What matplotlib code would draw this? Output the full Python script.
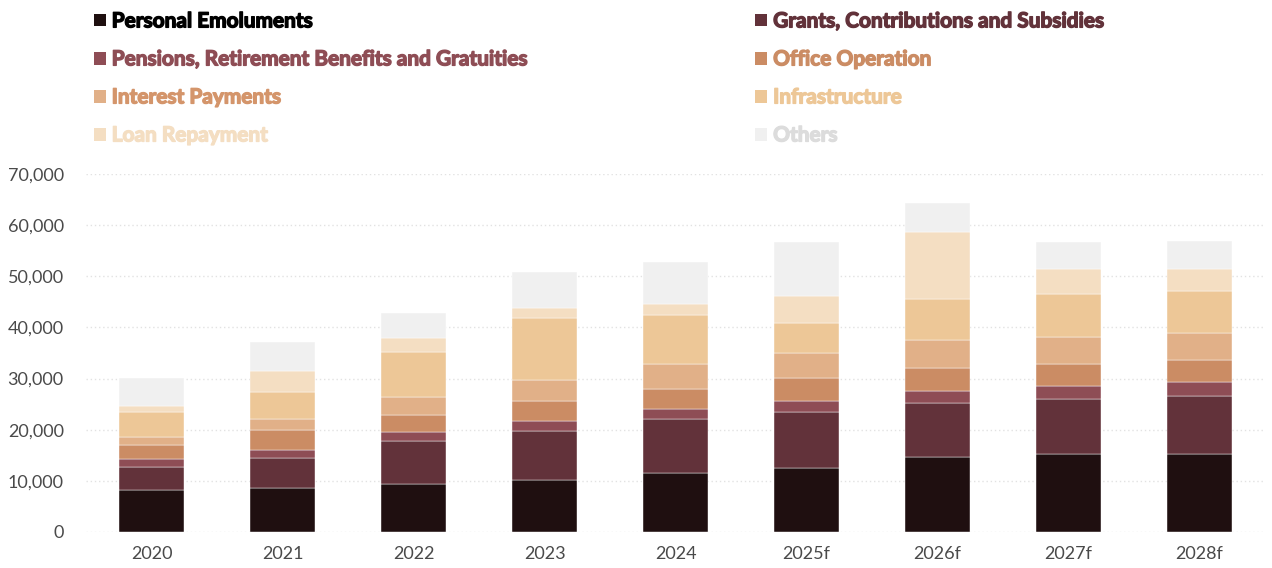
import matplotlib
matplotlib.use("Agg")
import matplotlib.pyplot as plt
import matplotlib.patheffects as pe
from matplotlib.patches import Patch
import numpy as np

years = ["2020", "2021", "2022", "2023", "2024", "2025f", "2026f", "2027f", "2028f"]

personal_emoluments = [8150, 8680, 9390, 10240, 11610, 12520, 14680, 15260, 15260]
grants_contributions = [4630, 5870, 8420, 9590, 10570, 10960, 10570, 10760, 11350]
pensions_gratuities = [1570, 1500, 1760, 1890, 1960, 2150, 2350, 2540, 2740]
office_operation = [2740, 3910, 3330, 3980, 3850, 4500, 4500, 4310, 4310]
interest_payments = [1570, 2150, 3590, 4040, 4760, 4890, 5480, 5280, 5280]
infrastructure = [4830, 5280, 8740, 12130, 9720, 5870, 8020, 8410, 8220]
loan_repayment = [1170, 4110, 2680, 1960, 2150, 5280, 13110, 4890, 4310]
others = [5480, 5680, 4890, 7040, 8150, 10570, 5680, 5280, 5480]

series = [
    ("Personal Emoluments", personal_emoluments, "#1f0f10", "#000000"),
    ("Grants, Contributions and Subsidies", grants_contributions, "#62323a", "#62323a"),
    ("Pensions, Retirement Benefits and Gratuities", pensions_gratuities, "#8e4d55", "#8e4d55"),
    ("Office Operation", office_operation, "#cb8c64", "#cb8c64"),
    ("Interest Payments", interest_payments, "#e1b088", "#d4956b"),
    ("Infrastructure", infrastructure, "#edc797", "#edc797"),
    ("Loan Repayment", loan_repayment, "#f4dec2", "#f4dec2"),
    ("Others", others, "#f0f0f0", "#dcdcdc"),
]

fig = plt.figure(figsize=(12.72, 5.68), dpi=100)
ax = fig.add_axes([0.0676, 0.0634, 0.927, 0.6303])

x = np.arange(len(years))
bottom = np.zeros(len(years))
handles = []
for name, vals, color, _ in series:
    v = np.array(vals, dtype=float)
    ax.bar(x, v, width=0.5, bottom=bottom, color=color,
           edgecolor="#ffffff", linewidth=0.3, zorder=3)
    bottom += v
    handles.append(Patch(facecolor=color, edgecolor="none"))

ax.set_xlim(-0.5, len(years) - 0.5)
ax.set_ylim(0, 70000)
ax.set_yticks(np.arange(0, 70001, 10000))
ax.set_yticklabels([f"{int(t):,}" for t in np.arange(0, 70001, 10000)])
ax.set_xticks(x)
ax.set_xticklabels(years)

for spine in ax.spines.values():
    spine.set_visible(False)
ax.tick_params(axis="both", length=0, labelsize=13, labelcolor="#4a4a4a")
ax.tick_params(axis="y", pad=16)
ax.tick_params(axis="x", pad=10)
for lbl in ax.get_xticklabels() + ax.get_yticklabels():
    lbl.set_fontfamily("Lato")

ax.yaxis.grid(True, color="#e2e2e2", linestyle=(0, (1, 2)), linewidth=1.0, zorder=0)
ax.set_axisbelow(True)

# two-column legend built from the same series
col_left = [0, 2, 4, 6]
col_right = [1, 3, 5, 7]
for cols, xpos in ((col_left, 0.059), (col_right, 0.579)):
    leg = fig.legend(
        [handles[i] for i in cols],
        [series[i][0] for i in cols],
        loc="upper left",
        bbox_to_anchor=(xpos, 1.013),
        frameon=False,
        handlelength=0.58,
        handleheight=0.58,
        handletextpad=0.28,
        labelspacing=0.865,
        prop={"family": "Lato", "weight": "bold", "size": 15},
        labelcolor=[series[i][3] for i in cols],
    )
    for txt, i in zip(leg.get_texts(), cols):
        txt.set_path_effects([pe.withStroke(linewidth=1.0, foreground=series[i][3])])

fig.savefig("out.png", dpi=100)
